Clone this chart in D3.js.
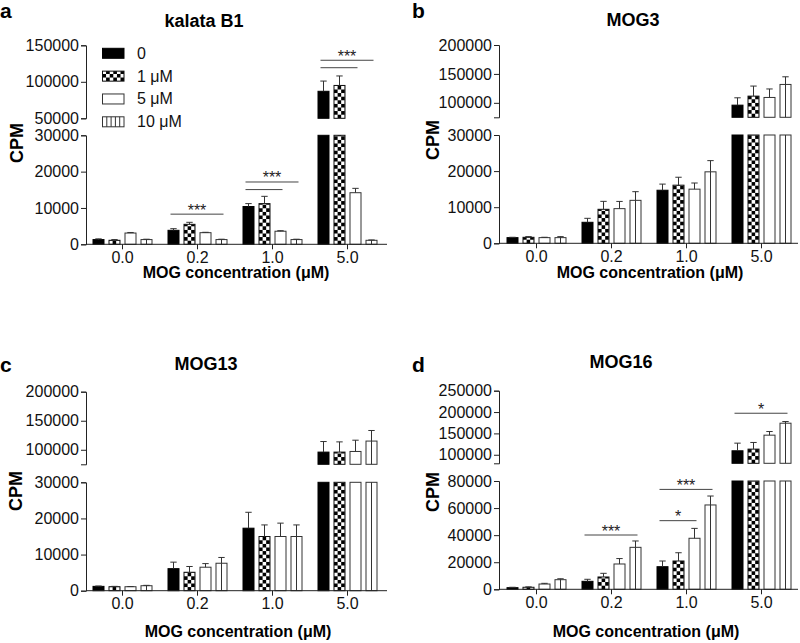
<!DOCTYPE html>
<html><head><meta charset="utf-8">
<script src="https://cdn.jsdelivr.net/npm/d3@7"></script>
<style>body{margin:0;background:#fff} svg{display:block} text{font-family:"Liberation Sans",Arial,Helvetica,sans-serif}</style>
</head><body>
<svg id="chart" width="800" height="643"></svg>
<script>
// ---------- data ----------
const categories = ["0.0", "0.2", "1.0", "5.0"];
const seriesNames = ["0", "1 μM", "5 μM", "10 μM"];
const seriesStyles = ["black", "checker", "white", "stripes"];

// means[category][series], errors[category][series]
const kalataMeans = [[1300, 1100, 3100, 1300], [3850, 5500, 3200, 1300], [10400, 11200, 3600, 1300], [87000, 95000, 14200, 1100]];
const kalataErrors = [[200, 200, 150, 100], [450, 550, 100, 100], [800, 2000, 150, 100], [14000, 13000, 1200, 100]];
const kalataLowerTicks = [0, 10000, 20000, 30000];
const kalataUpperTicks = [50000, 100000, 150000];
const kalataSig = [
  {cat: "0.2", from: 0, to: 3, y: 8300, label: "***"},
  {cat: "1.0", from: 0, to: 3, y: 17150, label: "***"},
  {cat: "1.0", from: 0, to: 2, y: 15060, label: ""},
  {cat: "5.0", from: 0, to: 3, y: 129500, label: "***"},
  {cat: "5.0", from: 0, to: 2, y: 119300, label: ""}
];

const mog3Means = [[1570, 1660, 1570, 1570], [5820, 9420, 9600, 11900], [14700, 16100, 15000, 19800], [96000, 111600, 109300, 131800]];
const mog3Errors = [[100, 200, 100, 280], [1100, 2200, 2000, 2400], [1700, 2200, 1700, 3100], [12700, 17400, 14700, 13200]];
const mog3LowerTicks = [0, 10000, 20000, 30000];
const mog3UpperTicks = [100000, 150000, 200000];
const mog3Sig = [];

const mog13Means = [[1200, 1100, 1100, 1380], [6100, 5100, 6500, 7600], [17300, 15000, 15000, 15000], [96000, 96000, 97100, 115000]];
const mog13Errors = [[100, 100, 50, 100], [1800, 1600, 1000, 1600], [4400, 3200, 3700, 3200], [18200, 17600, 19400, 18200]];
const mog13LowerTicks = [0, 10000, 20000, 30000];
const mog13UpperTicks = [100000, 150000, 200000];
const mog13Sig = [];

const mog16Means = [[1200, 1500, 3900, 7100], [5900, 9100, 18700, 31000], [16700, 20900, 37700, 62300], [109300, 113200, 145900, 173900]];
const mog16Errors = [[300, 300, 500, 700], [1500, 2700, 4000, 4700], [4200, 6100, 7300, 6600], [17900, 15600, 8500, 3900]];
const mog16LowerTicks = [0, 20000, 40000, 60000, 80000];
const mog16UpperTicks = [100000, 150000, 200000, 250000];
const mog16Sig = [
  {cat: "0.2", from: 0, to: 3, y: 40100, label: "***"},
  {cat: "1.0", from: 0, to: 2, y: 50700, label: "*"},
  {cat: "1.0", from: 0, to: 3, y: 73800, label: "***"},
  {cat: "5.0", from: 0, to: 3, y: 197200, label: "*"}
];

const panelLetters = ["a", "b", "c", "d"];
const panelTitles = ["kalata B1", "MOG3", "MOG13", "MOG16"];
const xAxisTitle = "MOG concentration (μM)";
const yAxisTitle = "CPM";

const panels = [
  {means: kalataMeans, errors: kalataErrors, lowTicks: kalataLowerTicks, upTicks: kalataUpperTicks, lowDomain: [0, 30000], upDomain: [50000, 150000], sig: kalataSig, legend: true},
  {means: mog3Means, errors: mog3Errors, lowTicks: mog3LowerTicks, upTicks: mog3UpperTicks, lowDomain: [0, 30000], upDomain: [75000, 200000], sig: mog3Sig},
  {means: mog13Means, errors: mog13Errors, lowTicks: mog13LowerTicks, upTicks: mog13UpperTicks, lowDomain: [0, 30000], upDomain: [75000, 200000], sig: mog13Sig},
  {means: mog16Means, errors: mog16Errors, lowTicks: mog16LowerTicks, upTicks: mog16UpperTicks, lowDomain: [0, 80000], upDomain: [80000, 250000], sig: mog16Sig}
];

// ---------- layout (pixels) ----------
const layouts = [
  {ax: 86, band: [85, 385], xEnd: 387, yZero: 244.3, yLowTop: 135.3, yUpBot: 118.3, yUpTop: 45.3, letter: [0, 18], title: [204, 27], xTitle: [236, 278], yTitle: [17, 143]},
  {ax: 499, band: [499, 799], xEnd: 798, yZero: 243.3, yLowTop: 135, yUpBot: 117.3, yUpTop: 45, letter: [412, 18], title: [633, 26], xTitle: [650, 278], yTitle: [433, 140]},
  {ax: 86, band: [85, 385], xEnd: 387, yZero: 590.7, yLowTop: 482.3, yUpBot: 464.3, yUpTop: 391.7, letter: [0, 372], title: [206, 370], xTitle: [238, 637], yTitle: [16, 491]},
  {ax: 499, band: [499, 799], xEnd: 798, yZero: 589.3, yLowTop: 481, yUpBot: 463.3, yUpTop: 390.7, letter: [412, 372], title: [621, 368], xTitle: [646, 637], yTitle: [433, 492]}
];

const svg = d3.select("#chart");
const defs = svg.append("defs");
let patId = 0;
const SQ = 3.6;

function checkerPattern(x0, y0) {
  const id = "chk" + (patId++);
  const p = defs.append("pattern").attr("id", id).attr("patternUnits", "userSpaceOnUse")
    .attr("x", x0).attr("y", y0).attr("width", SQ * 2).attr("height", SQ * 2);
  p.append("rect").attr("width", SQ * 2).attr("height", SQ * 2).attr("fill", "#fff");
  p.append("rect").attr("width", SQ).attr("height", SQ).attr("fill", "#000");
  p.append("rect").attr("x", SQ).attr("y", SQ).attr("width", SQ).attr("height", SQ).attr("fill", "#000");
  return "url(#" + id + ")";
}

function drawBox(g, x, yTop, w, yBot, style, stripeCount) {
  const h = yBot - yTop;
  if (h <= 0) return;
  if (style === "black") {
    g.append("rect").attr("x", x).attr("y", yTop).attr("width", w).attr("height", h).attr("fill", "#000").attr("stroke", "#000");
  } else if (style === "checker") {
    g.append("rect").attr("x", x).attr("y", yTop).attr("width", w).attr("height", h)
      .attr("fill", checkerPattern(x, yBot)).attr("stroke", "#111");
  } else if (style === "white") {
    g.append("rect").attr("x", x).attr("y", yTop).attr("width", w).attr("height", h).attr("fill", "#fff").attr("stroke", "#333");
  } else {
    g.append("rect").attr("x", x).attr("y", yTop).attr("width", w).attr("height", h).attr("fill", "#fff").attr("stroke", "#333");
    for (let k = 1; k < stripeCount; k++) {
      const lx = x + w * k / stripeCount;
      g.append("line").attr("x1", lx).attr("x2", lx).attr("y1", yTop).attr("y2", yBot).attr("stroke", "#333");
    }
  }
}

panels.forEach((p, pi) => {
  const L = layouts[pi];
  const g = svg.append("g");
  const x = d3.scaleBand().domain(categories).range(L.band);
  const xi = d3.scaleBand().domain(d3.range(seriesNames.length)).range([-32, 32]).paddingInner(0.3125).paddingOuter(0.15625);
  const bw = xi.bandwidth();
  const yLow = d3.scaleLinear().domain(p.lowDomain).range([L.yZero, L.yLowTop]);
  const yUp = d3.scaleLinear().domain(p.upDomain).range([L.yUpBot, L.yUpTop]);
  const yv = v => v > p.lowDomain[1] ? yUp(v) : yLow(v);
  const barX = (cat, si) => x(cat) + x.bandwidth() / 2 + xi(si);

  // bars
  categories.forEach((cat, ci) => {
    seriesNames.forEach((s, si) => {
      const v = p.means[ci][si];
      const e = p.errors[ci][si];
      const bx = barX(cat, si);
      const style = seriesStyles[si];
      if (v <= p.lowDomain[1]) {
        drawBox(g, bx, yLow(v), bw, yLow(0), style, 2);
      } else {
        drawBox(g, bx, yLow(p.lowDomain[1]), bw, yLow(0), style, 2);
        drawBox(g, bx, yUp(v), bw, yUp(p.upDomain[0]), style, 2);
      }
      const cx = bx + bw / 2;
      const y1 = yv(v), y2 = yv(v + e);
      g.append("line").attr("x1", cx).attr("x2", cx).attr("y1", y1).attr("y2", y2).attr("stroke", "#333");
      g.append("line").attr("x1", cx - 3.2).attr("x2", cx + 3.2).attr("y1", y2).attr("y2", y2).attr("stroke", "#333");
    });
  });

  // significance lines
  p.sig.forEach(s => {
    const xa = barX(s.cat, s.from) + bw / 2 - 3;
    const xb = barX(s.cat, s.to) + bw / 2 + 2;
    const yy = yv(s.y);
    g.append("line").attr("x1", xa).attr("x2", xb).attr("y1", yy).attr("y2", yy).attr("stroke", "#444");
    if (s.label) {
      g.append("text").attr("x", (xa + xb) / 2).attr("y", yy + 1.5).attr("text-anchor", "middle")
        .attr("font-size", 16).attr("fill", "#222").text(s.label);
    }
  });

  // y axes (two segments)
  const fmt = d3.format("d");
  const yAxL = g.append("g").attr("transform", `translate(${L.ax},0)`)
    .call(d3.axisLeft(yLow).tickValues(p.lowTicks).tickFormat(fmt).tickSizeInner(5).tickSizeOuter(5).tickPadding(2));
  const yAxU = g.append("g").attr("transform", `translate(${L.ax},0)`)
    .call(d3.axisLeft(yUp).tickValues(p.upTicks).tickFormat(fmt).tickSizeInner(5).tickSizeOuter(5).tickPadding(2));
  [yAxL, yAxU].forEach(a => {
    a.attr("font-family", null).attr("font-size", 16).attr("color", "#222");
    a.selectAll("text").attr("fill", "#111");
  });

  // x axis
  const xAx = g.append("g").attr("transform", `translate(0,${L.yZero})`)
    .call(d3.axisBottom(x).tickSizeInner(5).tickSizeOuter(0).tickPadding(2));
  xAx.attr("font-family", null).attr("font-size", 16).attr("color", "#222");
  xAx.select(".domain").attr("d", `M${L.ax},0H${L.xEnd}`);
  xAx.selectAll("text").attr("fill", "#111");

  // texts
  svg.append("text").attr("x", L.letter[0]).attr("y", L.letter[1]).attr("font-size", 21).attr("font-weight", "bold").text(panelLetters[pi]);
  svg.append("text").attr("x", L.title[0]).attr("y", L.title[1]).attr("text-anchor", "middle").attr("font-size", 18).attr("font-weight", "bold").text(panelTitles[pi]);
  svg.append("text").attr("x", L.xTitle[0]).attr("y", L.xTitle[1]).attr("text-anchor", "middle").attr("font-size", 16).attr("font-weight", "bold").text(xAxisTitle);
  svg.append("text").attr("transform", `translate(${L.yTitle[0]},${L.yTitle[1]}) rotate(-90)`).attr("text-anchor", "middle")
    .attr("dominant-baseline", "central").attr("font-size", 18).attr("font-weight", "bold").text(yAxisTitle);

  // legend
  if (p.legend) {
    const lg = svg.append("g");
    const rowY = d3.scalePoint().domain(seriesNames).range([53.3, 121.8]);
    seriesNames.forEach((s, si) => {
      const cy = rowY(s);
      drawBox(lg, 102.5, cy - 5, 21.5, cy + 5, seriesStyles[si], 5);
      lg.append("text").attr("x", 137).attr("y", cy).attr("dominant-baseline", "central").attr("font-size", 16).attr("fill", "#111").text(s);
    });
  }
});
</script>
</body></html>
